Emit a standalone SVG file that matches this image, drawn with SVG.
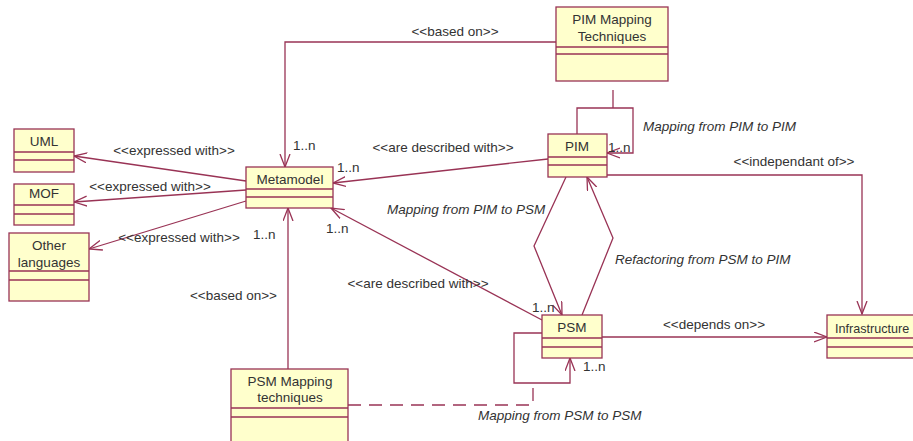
<svg xmlns="http://www.w3.org/2000/svg" width="913" height="441" viewBox="0 0 913 441">
<style>
  .box { fill: #FFFFCC; stroke: #993355; stroke-width: 1.3; }
  .sep { stroke: #993355; stroke-width: 1.3; fill: none; }
  .c { fill: none; stroke: #993355; stroke-width: 1.3; }
  .arr { marker-end: url(#open); }
  .dash { stroke-dasharray: 13 8; }
  text { font-family: "Liberation Sans", Arial, sans-serif; font-size: 13.5px; fill: #333333; }
  .n { text-anchor: middle; }
  .i { font-style: italic; }
</style>
<defs>
  <marker id="open" markerUnits="userSpaceOnUse" markerWidth="14" markerHeight="12" refX="13" refY="5.5" orient="auto" viewBox="0 0 14 12">
    <path d="M0,0.5 L13,5.5 L0,10.5" fill="none" stroke="#993355" stroke-width="1.3"/>
  </marker>
</defs>
<rect width="913" height="441" fill="#FFFFFF"/>

<g id="connectors">
  <path class="c arr" d="M556,42 H285 V167"/>
  <path class="c arr" d="M246,181 L74,156"/>
  <path class="c arr" d="M246,190 L74,202"/>
  <path class="c arr" d="M246,201 L89,249"/>
  <path class="c arr" d="M548,159 L333,183"/>
  <path class="c arr" d="M542,320 L331,208"/>
  <path class="c arr" d="M288,369 V208"/>
  <path class="c arr" d="M577,134 V108 H633 V153 H607"/>
  <path class="c" d="M613,90 V108"/>
  <path class="c arr" d="M566,177 L534,246 L562,315"/>
  <path class="c arr" d="M582,315 L613,238 L587,177"/>
  <path class="c arr" d="M607,175 H862 V314"/>
  <path class="c arr" d="M602,337 H827"/>
  <path class="c arr" d="M542,333 H514 V383 H570 V358"/>
  <path class="c dash" d="M348,405 H533 V383"/>
</g>

<g id="labels">
  <text x="455" y="36" class="n">&lt;&lt;based on&gt;&gt;</text>
  <text x="174" y="155" class="n">&lt;&lt;expressed with&gt;&gt;</text>
  <text x="150" y="191" class="n">&lt;&lt;expressed with&gt;&gt;</text>
  <text x="179" y="242" class="n">&lt;&lt;expressed with&gt;&gt;</text>
  <text x="293" y="150">1..n</text>
  <text x="337" y="172">1..n</text>
  <text x="253" y="239">1..n</text>
  <text x="326" y="233">1..n</text>
  <text x="443" y="152" class="n">&lt;&lt;are described with&gt;&gt;</text>
  <text x="643" y="131" class="i">Mapping from PIM to PIM</text>
  <text x="608" y="152">1..n</text>
  <text x="794" y="166" class="n">&lt;&lt;independant of&gt;&gt;</text>
  <text x="387" y="214" class="i">Mapping from PIM to PSM</text>
  <text x="615" y="264" class="i">Refactoring from PSM to PIM</text>
  <text x="418" y="288" class="n">&lt;&lt;are described with&gt;&gt;</text>
  <text x="277" y="300" text-anchor="end">&lt;&lt;based on&gt;&gt;</text>
  <text x="532" y="312">1..n</text>
  <text x="714" y="329" class="n">&lt;&lt;depends on&gt;&gt;</text>
  <text x="583" y="371">1..n</text>
  <text x="478" y="420" class="i">Mapping from PSM to PSM</text>
</g>

<g id="uml">
  <rect class="box" x="14" y="129" width="60" height="43"/>
  <path class="sep" d="M14,152 H74 M14,160 H74"/>
  <text x="44" y="146" class="n">UML</text>
</g>
<g id="mof">
  <rect class="box" x="14" y="184" width="60" height="41"/>
  <path class="sep" d="M14,205 H74 M14,214 H74"/>
  <text x="44" y="198" class="n">MOF</text>
</g>
<g id="other-languages">
  <rect class="box" x="9" y="233" width="80" height="68"/>
  <path class="sep" d="M9,271 H89 M9,280 H89"/>
  <text x="49" y="250" class="n">Other</text>
  <text x="49" y="267" class="n">languages</text>
</g>
<g id="metamodel">
  <rect class="box" x="246" y="167" width="87" height="41"/>
  <path class="sep" d="M246,189 H333 M246,197 H333"/>
  <text x="290" y="184" class="n">Metamodel</text>
</g>
<g id="pim-mapping">
  <rect class="box" x="556" y="7" width="112" height="74"/>
  <path class="sep" d="M556,47 H668 M556,54 H668"/>
  <text x="612" y="24" class="n">PIM Mapping</text>
  <text x="612" y="41" class="n">Techniques</text>
</g>
<g id="pim">
  <rect class="box" x="548" y="134" width="59" height="43"/>
  <path class="sep" d="M548,157 H607 M548,165 H607"/>
  <text x="577" y="151" class="n">PIM</text>
</g>
<g id="psm">
  <rect class="box" x="542" y="315" width="60" height="43"/>
  <path class="sep" d="M542,338 H602 M542,347 H602"/>
  <text x="572" y="332" class="n">PSM</text>
</g>
<g id="psm-mapping">
  <rect class="box" x="231" y="369" width="117" height="80"/>
  <path class="sep" d="M231,408 H348 M231,417 H348"/>
  <text x="290" y="386" class="n">PSM Mapping</text>
  <text x="290" y="402" class="n">techniques</text>
</g>
<g id="infrastructure">
  <rect class="box" x="827" y="315" width="100" height="43"/>
  <path class="sep" d="M827,338 H927 M827,347 H927"/>
  <text x="835" y="333" style="font-size:12.6px">Infrastructure</text>
</g>
</svg>
